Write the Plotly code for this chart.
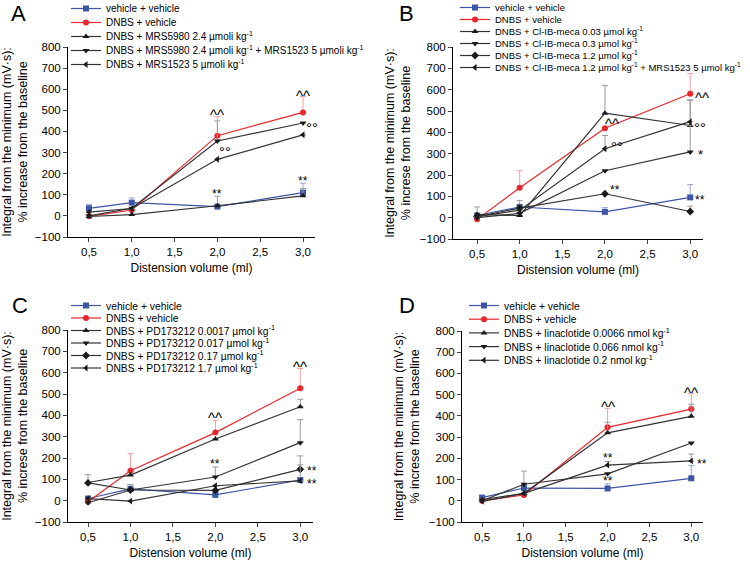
import plotly.graph_objects as go

# ---------------- data ----------------
X = [0.5, 1.0, 2.0, 3.0]
X_TICKS = [0.5, 1.0, 1.5, 2.0, 2.5, 3.0]
X_TICKTEXT = ["0,5", "1,0", "1,5", "2,0", "2,5", "3,0"]
Y_TICKS = [-100, 0, 100, 200, 300, 400, 500, 600, 700, 800]

# Panel A
a_names = ["vehicle + vehicle", "DNBS + vehicle",
           "DNBS + MRS5980 2.4 µmoli kg<sup>-1</sup>",
           "DNBS + MRS5980 2.4 µmoli kg<sup>-1</sup> + MRS1523 5 µmoli kg<sup>-1</sup>",
           "DNBS + MRS1523 5 µmoli kg<sup>-1</sup>"]
a_veh = [36, 63, 44, 110];     a_veh_err = [18, 22, 0, 45]
a_dnbs = [-2, 28, 380, 490];   a_dnbs_err = [0, 0, 90, 75]
a_mrs5980 = [-3, 6, 48, 95];   a_mrs5980_err = [0, 0, 45, 35]
a_combo = [0, 36, 355, 440];   a_combo_err = [0, 0, 95, 0]
a_mrs1523 = [18, 35, 268, 384]; a_mrs1523_err = [0, 0, 0, 0]

# Panel B
b_names = ["vehicle + vehicle", "DNBS + vehicle",
           "DNBS + Cl-IB-meca 0.03 µmol kg<sup>-1</sup>",
           "DNBS + Cl-IB-meca 0.3 µmol kg<sup>-1</sup>",
           "DNBS + Cl-IB-meca 1.2 µmol kg<sup>-1</sup>",
           "DNBS + Cl-IB-meca 1.2 µmol kg<sup>-1</sup> + MRS1523 5 µmol kg<sup>-1</sup>"]
b_veh = [10, 50, 27, 95];      b_veh_err = [0, 0, 20, 60]
b_dnbs = [-8, 140, 419, 581];  b_dnbs_err = [0, 80, 0, 95]
b_c003 = [15, 10, 490, 432];   b_c003_err = [35, 0, 130, 120]
b_c03 = [0, 20, 220, 308];     b_c03_err = [0, 0, 0, 125]
b_c12 = [5, 45, 112, 29];      b_c12_err = [0, 35, 0, 25]
b_c12m = [5, 35, 323, 450];    b_c12m_err = [0, 0, 62, 100]

# Panel C
c_names = ["vehicle + vehicle", "DNBS + vehicle",
           "DNBS + PD173212 0.0017 µmol kg<sup>-1</sup>",
           "DNBS + PD173212 0.017 µmol kg<sup>-1</sup>",
           "DNBS + PD173212 0.17 µmol kg<sup>-1</sup>",
           "DNBS + PD173212 1.7 µmol kg<sup>-1</sup>"]
c_veh = [10, 55, 27, 97];      c_veh_err = [0, 20, 0, 0]
c_dnbs = [-5, 140, 319, 527];  c_dnbs_err = [0, 80, 57, 93]
c_p0017 = [85, 120, 289, 440]; c_p0017_err = [37, 0, 0, 35]
c_p017 = [-10, 50, 111, 272];  c_p017_err = [0, 0, 47, 108]
c_p17d = [83, 50, 48, 147];    c_p17d_err = [0, 25, 0, 63]
c_p17 = [10, -2, 70, 93];      c_p17_err = [0, 0, 0, 75]

# Panel D
d_names = ["vehicle + vehicle", "DNBS + vehicle",
           "DNBS + linaclotide 0.0066 nmol kg<sup>-1</sup>",
           "DNBS + linaclotide 0.066 nmol kg<sup>-1</sup>",
           "DNBS + linaclotide 0.2 nmol kg<sup>-1</sup>"]
d_veh = [15, 60, 58, 106];     d_veh_err = [0, 0, 22, 60]
d_dnbs = [0, 27, 346, 432];    d_dnbs_err = [0, 0, 90, 73]
d_l0066 = [5, 35, 320, 398];   d_l0066_err = [0, 0, 50, 57]
d_l066 = [0, 78, 127, 272];    d_l066_err = [0, 62, 0, 0]
d_l02 = [-3, 35, 168, 188];    d_l02_err = [0, 0, 17, 32]

# significance labels: (x, y, text)
a_marks = [(2.0, 497, "^^"), (3.0, 589, "^^"), (2.09, 330, "°°"), (3.105, 441, "°°"),
           (2.0, 119, "**"), (3.0, 179, "**")]
b_marks = [(2.08, 458, "^^"), (3.14, 582, "^^"), (2.14, 358, "°°"), (3.12, 448, "°°"),
           (3.12, 312, "*"), (2.12, 146, "**"), (3.12, 97, "**")]
c_marks = [(2.0, 409, "^^"), (3.0, 647, "^^"), (2.0, 186, "**"),
           (3.14, 152, "**"), (3.14, 92, "**")]
d_marks = [(2.0, 464, "^^"), (3.0, 527, "^^"), (2.0, 214, "**"), (2.0, 105, "**"),
           (3.13, 188, "**")]

# ---------------- style ----------------
FONT = "Liberation Sans, Arial, sans-serif"
BLUE, RED, BLACK = "#3d55a6", "#e8262b", "#1a1a1a"
BLUE_ERR, RED_ERR, GRAY_ERR = "#9aa6d4", "#f2a0a0", "#9a9a9a"
LINE_BLACK = "#333333"

fig = go.Figure()

panels = [
    dict(ax="", leg="legend", names=a_names,
         series=[(a_veh, a_veh_err), (a_dnbs, a_dnbs_err), (a_mrs5980, a_mrs5980_err),
                 (a_combo, a_combo_err), (a_mrs1523, a_mrs1523_err)],
         symbols=["square", "circle", "triangle-up", "triangle-down", "triangle-left"],
         xdom=[68/750, 315/750], ydom=[1-237/561, 1-47/561], xr=[0.255, 3.14],
         marks=a_marks, label="A", lab_xy=(18, 14), legxy=(66, -6), legfont=10,
         ytitle="Integral from the minimum (mV·s):<br>% increase from the baseline"),
    dict(ax="2", leg="legend2", names=b_names,
         series=[(b_veh, b_veh_err), (b_dnbs, b_dnbs_err), (b_c003, b_c003_err),
                 (b_c03, b_c03_err), (b_c12, b_c12_err), (b_c12m, b_c12m_err)],
         symbols=["square", "circle", "triangle-up", "triangle-down", "diamond", "triangle-left"],
         xdom=[453/750, 703/750], ydom=[1-239/561, 1-47/561], xr=[0.218, 3.15],
         marks=b_marks, label="B", lab_xy=(406, 13), legxy=(455, -7), legfont=9.5,
         ytitle="Integral from the minimum (mV·s):<br>% increse from the baseline"),
    dict(ax="3", leg="legend3", names=c_names,
         series=[(c_veh, c_veh_err), (c_dnbs, c_dnbs_err), (c_p0017, c_p0017_err),
                 (c_p017, c_p017_err), (c_p17d, c_p17d_err), (c_p17, c_p17_err)],
         symbols=["square", "circle", "triangle-up", "triangle-down", "diamond", "triangle-left"],
         xdom=[68/750, 313/750], ydom=[1-522/561, 1-330/561], xr=[0.264, 3.15],
         marks=c_marks, label="C", lab_xy=(20, 305), legxy=(66, 291), legfont=10.3,
         ytitle="Integral from the minimum (mV·s):<br>% increse from the baseline"),
    dict(ax="4", leg="legend4", names=d_names,
         series=[(d_veh, d_veh_err), (d_dnbs, d_dnbs_err), (d_l0066, d_l0066_err),
                 (d_l066, d_l066_err), (d_l02, d_l02_err)],
         symbols=["square", "circle", "triangle-up", "triangle-down", "triangle-left"],
         xdom=[462/750, 703/750], ydom=[1-522/561, 1-331/561], xr=[0.26, 3.14],
         marks=d_marks, label="D", lab_xy=(407, 305), legxy=(464, 291), legfont=10.3,
         ytitle="Integral from the minimum (mV·s):<br>% increse from the baseline"),
]

MARK_FONT = {"^^": 15, "°°": 15, "**": 12, "*": 13}
MARK_SHIFT = {"^^": -4, "°°": -5, "**": -3, "*": -3}

annotations = []
layout_axes = {}
for p in panels:
    xa, ya = "x" + p["ax"], "y" + p["ax"]
    for i, ((vals, err), name, sym) in enumerate(zip(p["series"], p["names"], p["symbols"])):
        if i == 0:
            lc, mc, ec = BLUE, BLUE, BLUE_ERR
        elif i == 1:
            lc, mc, ec = RED, RED, RED_ERR
        else:
            lc, mc, ec = LINE_BLACK, BLACK, GRAY_ERR
        fig.add_trace(go.Scatter(
            x=X, y=vals, name=name, mode="lines+markers",
            xaxis=xa, yaxis=ya, legend=p["leg"],
            line=dict(color=lc, width=1.2),
            marker=dict(symbol=sym, size=6, color=mc),
            error_y=dict(type="data", symmetric=False, array=err,
                         arrayminus=[0] * len(err), color=ec, thickness=1, width=3),
        ))
    sfx = p["ax"]
    layout_axes["xaxis" + sfx] = dict(
        domain=p["xdom"], range=p["xr"], anchor=ya,
        tickvals=X_TICKS, ticktext=X_TICKTEXT, ticks="outside", ticklen=4,
        showline=True, linecolor="black", linewidth=1, showgrid=False, zeroline=False,
        tickfont=dict(size=11.5, family=FONT, color="black"),
        title=dict(text="Distension volume (ml)", font=dict(size=12, family=FONT, color="black"),
                   standoff=6),
    )
    layout_axes["yaxis" + sfx] = dict(
        domain=p["ydom"], range=[-100, 800], anchor=xa,
        tickvals=Y_TICKS, ticks="outside", ticklen=4,
        showline=True, linecolor="black", linewidth=1, showgrid=False, zeroline=False,
        tickfont=dict(size=11.5, family=FONT, color="black"),
        title=dict(text=p["ytitle"], font=dict(size=12.5, family=FONT, color="black"), standoff=6),
    )
    for (mx, my, mt) in p["marks"]:
        annotations.append(dict(x=mx, y=my, xref=xa, yref=ya, text=mt, showarrow=False,
                                font=dict(size=MARK_FONT[mt], family=FONT, color="black"),
                                yshift=MARK_SHIFT[mt]))
    lx, ly = p["lab_xy"]
    annotations.append(dict(x=lx / 750, y=1 - ly / 561, xref="paper", yref="paper",
                            xanchor="center", yanchor="middle",
                            text=p["label"], showarrow=False,
                            font=dict(size=22, family=FONT, color="black")))
    legx, legy = p["legxy"]
    layout_axes[p["leg"]] = dict(
        x=legx / 750, y=1 - legy / 561, xanchor="left", yanchor="top",
        bgcolor="rgba(0,0,0,0)", font=dict(size=p["legfont"], family=FONT, color="black"),
        itemwidth=30, tracegroupgap=0, borderwidth=0,
    )

fig.update_layout(
    width=750, height=561,
    margin=dict(l=0, r=0, t=0, b=0, autoexpand=False),
    paper_bgcolor="white", plot_bgcolor="white",
    showlegend=True,
    annotations=annotations,
    **layout_axes,
)

# page reset + tighter legend rows (Plotly enforces a 19px minimum legend row)
POST = r"""
document.body.style.margin = '0';
document.body.style.padding = '0';
var gd = document.getElementById('{plot_id}') || document.querySelector('.plotly-graph-div');
function fixLegends(){
  var spacing = [['MRS5980', 14], ['Cl-IB', 12], ['PD173212', 12.5], ['linaclotide', 13.7]];
  var groups = gd.querySelectorAll('g.infolayer > g');
  for (var g = 0; g < groups.length; g++) {
    var leg = groups[g];
    var cls = leg.getAttribute('class') || '';
    if (!/^legend\d*$/.test(cls)) continue;
    var txt = leg.textContent, sp = 13;
    spacing.forEach(function(s){ if (txt.indexOf(s[0]) >= 0) { sp = s[1]; } });
    var items = leg.querySelectorAll('g.traces');
    var y0 = null;
    for (var i = 0; i < items.length; i++) {
      var tr = items[i].getAttribute('transform') || '';
      var m = tr.match(/translate\(\s*([-0-9.e]+)[\s,]+([-0-9.e]+)/);
      if (!m) continue;
      if (y0 === null) { y0 = parseFloat(m[2]); }
      items[i].setAttribute('transform', 'translate(' + m[1] + ',' + (y0 + i * sp) + ')');
    }
  }
}
fixLegends();
if (gd.on) { gd.on('plotly_afterplot', fixLegends); }
setTimeout(fixLegends, 200);
setTimeout(fixLegends, 800);
"""

fig.write_html("out.html", post_script=POST, config={"displayModeBar": False})
